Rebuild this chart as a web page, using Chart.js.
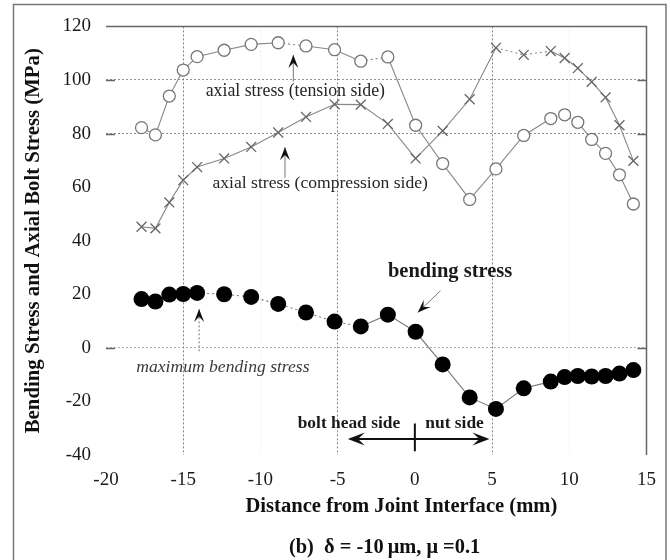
<!DOCTYPE html>
<html>
<head>
<meta charset="utf-8">
<script src="https://cdn.jsdelivr.net/npm/chart.js@4.4.1/dist/chart.umd.min.js"></script>
<style>
  html, body { margin: 0; padding: 0; background: #fff; }
  canvas { display: block; }
</style>
</head>
<body>
<canvas id="stressChart" width="670" height="560"></canvas>
<script>
// measuring positions along the bolt (mm)
const distance = [-17.7, -16.8, -15.9, -15.0, -14.1, -12.35, -10.6, -8.85, -7.05, -5.2, -3.5, -1.75,
  0.05, 1.8, 3.55, 5.25, 7.05, 8.8, 9.7, 10.55, 11.45, 12.35, 13.25, 14.15];

const tensionSide = [82.2, 79.5, 94.0, 103.7, 108.7, 111.1, 113.3, 113.9, 112.7, 111.3, 107.0, 108.6,
  83.1, 68.8, 55.4, 66.8, 79.3, 85.6, 87.0, 84.2, 77.8, 72.6, 64.6, 53.7];

const compressionSide = [45.2, 44.6, 54.3, 62.6, 67.5, 70.7, 75.0, 80.4, 86.2, 90.9, 90.8, 83.6,
  70.7, 81.0, 92.8, 112.0, 109.4, 110.8, 108.2, 104.4, 99.3, 93.5, 83.1, 69.8];

const bendingStress = [18.2, 17.3, 19.9, 20.1, 20.5, 20.0, 19.0, 16.4, 13.2, 9.8, 8.0, 12.4,
  6.0, -6.2, -18.5, -22.8, -15.1, -12.6, -10.9, -10.5, -10.7, -10.5, -9.6, -8.3];

const serif = "'Liberation Serif', 'Times New Roman', serif";
const toPoints = vals => distance.map((d, i) => ({ x: d, y: vals[i] }));

// segments that look dotted in the original print
const dottedTension = [7, 10, 17, 18];
const dottedCompression = [15, 16];
const dashedBending = [4, 5, 6, 7, 8, 9];
const dashIf = list => ctx => list.includes(ctx.p0DataIndex) ? [2, 3] : undefined;

// which grid lines survive in the scan
const xGrid = { '-15': 'rgba(90,90,90,0.75)', '-5': 'rgba(90,90,90,0.75)', '5': 'rgba(90,90,90,0.75)',
  '-10': 'rgba(0,0,0,0.07)', '10': 'rgba(0,0,0,0.07)' };
const yGrid = { '100': 'rgba(120,120,120,0.8)', '80': 'rgba(110,110,110,0.8)', '0': 'rgba(150,140,140,0.7)' };

function arrowHead(ctx, x, y, angle, len, half) {
  ctx.save();
  ctx.translate(x, y);
  ctx.rotate(angle);
  ctx.beginPath();
  ctx.moveTo(0, 0);
  ctx.lineTo(-len, -half);
  ctx.lineTo(-len * 0.6, 0);
  ctx.lineTo(-len, half);
  ctx.closePath();
  ctx.fill();
  ctx.restore();
}

const frame = {
  id: 'frame',
  beforeDatasetsDraw(chart) {
    const { ctx, chartArea: a, scales: { y } } = chart;
    ctx.save();
    ctx.strokeStyle = '#666';
    ctx.lineWidth = 1.5;
    ctx.beginPath();
    ctx.moveTo(a.left, a.top);
    ctx.lineTo(a.right, a.top);
    ctx.lineTo(a.right, a.bottom);
    // short inner tick marks on the surviving horizontal grid lines
    Object.keys(yGrid).forEach(v => {
      const yy = Math.round(y.getPixelForValue(+v)) + 0.5;
      ctx.moveTo(a.left, yy);
      ctx.lineTo(a.left + 9, yy);
      ctx.moveTo(a.right - 9, yy);
      ctx.lineTo(a.right, yy);
    });
    ctx.stroke();
    ctx.strokeStyle = '#777';
    ctx.lineWidth = 1.5;
    ctx.strokeRect(13.5, 4.5, 652.5, 570);
    ctx.restore();
  }
};

const notes = {
  id: 'notes',
  afterDatasetsDraw(chart) {
    const { ctx, scales: { x, y }, chartArea: a } = chart;
    const px = v => x.getPixelForValue(v);
    const py = v => y.getPixelForValue(v);
    ctx.save();
    ctx.textAlign = 'center';
    ctx.textBaseline = 'middle';

    const text = (t, vx, vy, font, color) => {
      ctx.font = font;
      ctx.fillStyle = color;
      ctx.fillText(t, px(vx), py(vy));
    };
    const pointer = (x0, y0, x1, y1, dash) => {
      const X0 = px(x0), Y0 = py(y0), X1 = px(x1), Y1 = py(y1);
      ctx.strokeStyle = '#777';
      ctx.lineWidth = 1;
      ctx.setLineDash(dash || []);
      ctx.beginPath();
      ctx.moveTo(X0, Y0);
      ctx.lineTo(X1, Y1);
      ctx.stroke();
      ctx.setLineDash([]);
      ctx.fillStyle = '#111';
      arrowHead(ctx, X1, Y1, Math.atan2(Y1 - Y0, X1 - X0), 13, 5);
    };

    text('axial stress (tension side)', -7.74, 95.8, '17.8px ' + serif, '#262626');
    pointer(-7.87, 99.4, -7.87, 109.3);
    text('axial stress (compression side)', -6.13, 61.5, '17.6px ' + serif, '#262626');
    pointer(-8.41, 63.5, -8.41, 74.9);
    text('bending stress', 2.28, 28.5, 'bold 20.5px ' + serif, '#1a1a1a');
    pointer(1.66, 21.3, 0.19, 13.2);
    text('maximum bending stress', -12.43, -7.2, 'italic 17.6px ' + serif, '#3a3a3a');
    pointer(-13.97, -1.3, -13.97, 14.5, [2, 2]);
    text('bolt head side', -4.27, -28.1, 'bold 17.4px ' + serif, '#1a1a1a');
    text('nut side', 2.57, -28.1, 'bold 17.4px ' + serif, '#1a1a1a');

    // double arrow under the interface
    const yA = py(-34.0), xl = px(-4.34), xr = px(4.83);
    ctx.strokeStyle = '#111';
    ctx.lineWidth = 2;
    ctx.beginPath();
    ctx.moveTo(xl + 6, yA);
    ctx.lineTo(xr - 6, yA);
    ctx.moveTo(px(0), py(-28.2));
    ctx.lineTo(px(0), py(-38.6));
    ctx.stroke();
    ctx.fillStyle = '#111';
    arrowHead(ctx, xl, yA, Math.PI, 17, 6.5);
    arrowHead(ctx, xr, yA, 0, 17, 6.5);

    // axis title and caption
    ctx.fillStyle = '#111';
    ctx.font = 'bold 20.6px ' + serif;
    ctx.fillText('Distance from Joint Interface (mm)', px(-0.87), a.bottom + 52);
    ctx.font = 'bold 20.4px ' + serif;
    ctx.fillText('(b)  \u03b4 = -10\u2009\u03bcm, \u03bc =0.1', px(-1.96), a.bottom + 93);
    ctx.restore();
  }
};

new Chart(document.getElementById('stressChart'), {
  type: 'line',
  data: {
    datasets: [
      {
        label: 'axial stress (tension side)',
        data: toPoints(tensionSide),
        borderColor: '#888',
        borderWidth: 1.1,
        pointStyle: 'circle',
        pointRadius: 6,
        pointBorderWidth: 1.3,
        pointBorderColor: '#777',
        pointBackgroundColor: '#fff',
        segment: { borderDash: dashIf(dottedTension) }
      },
      {
        label: 'axial stress (compression side)',
        data: toPoints(compressionSide),
        borderColor: '#888',
        borderWidth: 1.1,
        pointStyle: 'crossRot',
        pointRadius: 7,
        pointBorderWidth: 1.3,
        pointBorderColor: '#666',
        segment: { borderDash: dashIf(dottedCompression) }
      },
      {
        label: 'bending stress',
        data: toPoints(bendingStress),
        borderColor: '#777',
        borderWidth: 1.1,
        pointStyle: 'circle',
        pointRadius: 8,
        pointBorderWidth: 0,
        pointBackgroundColor: '#000',
        segment: { borderDash: dashIf(dashedBending) }
      }
    ]
  },
  options: {
    responsive: false,
    animation: false,
    layout: { padding: { left: 20, top: 23, right: 19, bottom: 0 } },
    plugins: { legend: { display: false }, tooltip: { enabled: false }, title: { display: false } },
    scales: {
      x: {
        type: 'linear', min: -20, max: 15,
        border: { display: false, dash: [2, 2] },
        grid: { drawTicks: false, color: c => xGrid[String(c.tick.value)] || 'transparent', lineWidth: 1 },
        ticks: { stepSize: 5, padding: 14, color: '#1a1a1a', font: { family: serif, size: 19 } },
        afterFit: s => { s.height = 105; }
      },
      y: {
        min: -40, max: 120,
        border: { display: false, dash: [2, 2] },
        grid: { drawTicks: false, color: c => yGrid[String(c.tick.value)] || 'transparent', lineWidth: 1 },
        ticks: { stepSize: 20, padding: 15, color: '#1a1a1a', font: { family: serif, size: 19 } },
        title: {
          display: true,
          text: 'Bending Stress and Axial Bolt Stress (MPa)',
          color: '#111',
          font: { family: serif, size: 20.8, weight: 'bold' },
          padding: { top: 1.5, bottom: 0 }
        },
        afterFit: s => { s.width = 86; }
      }
    }
  },
  plugins: [frame, notes]
});
</script>
</body>
</html>
